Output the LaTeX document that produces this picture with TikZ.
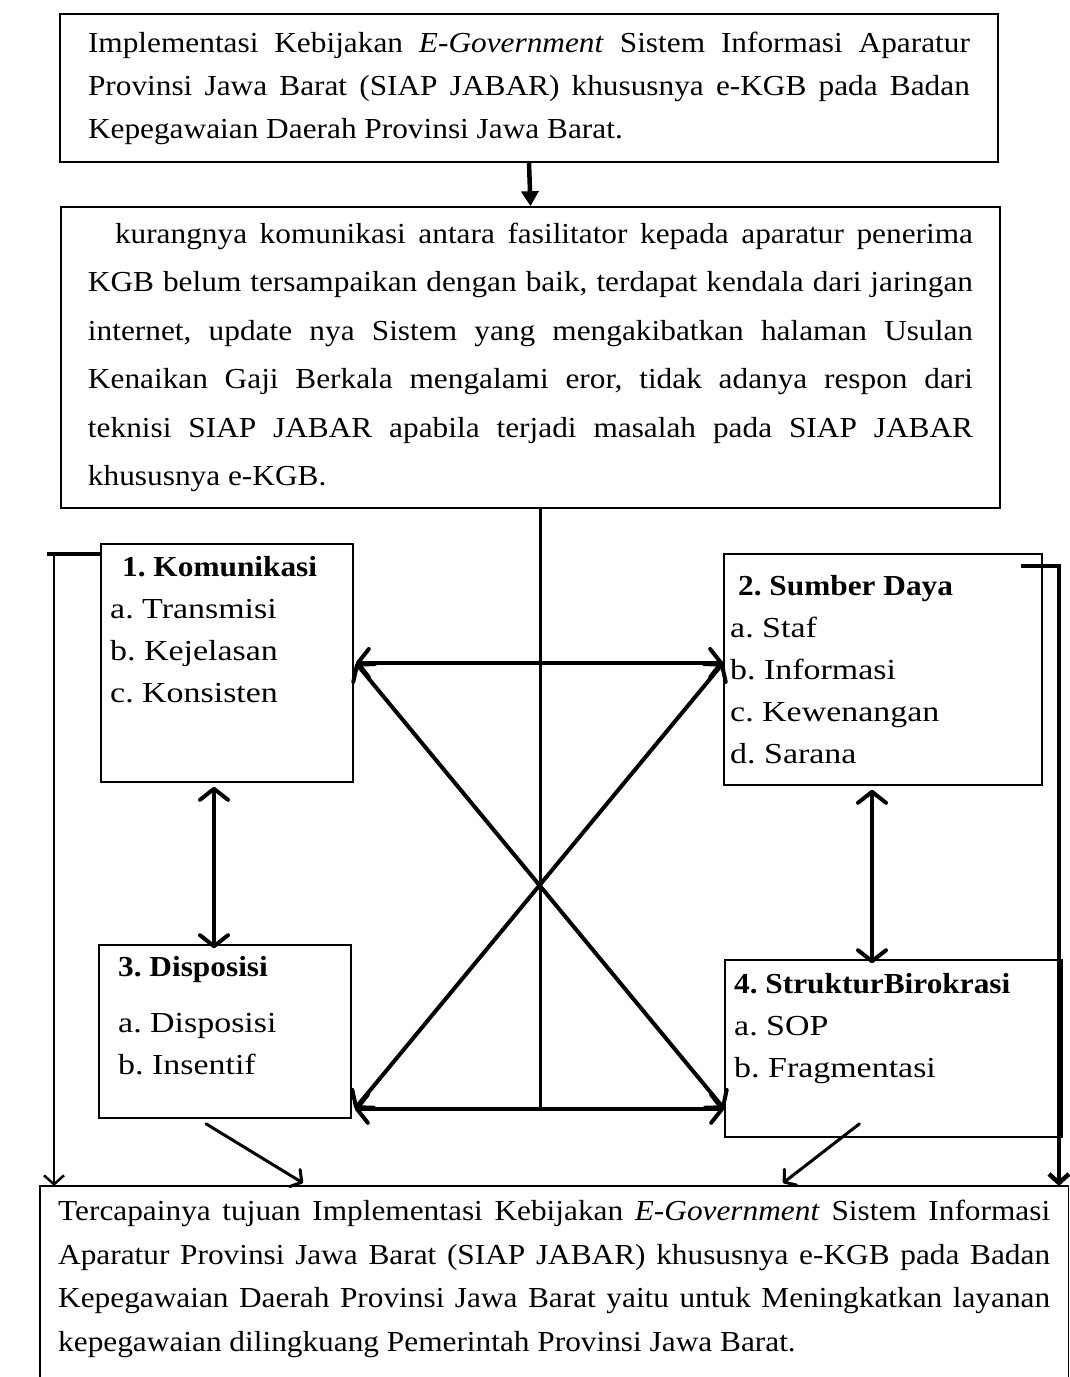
\documentclass[tikz,border=0pt]{standalone}
\usepackage{fontspec}
\setmainfont{Liberation Serif}[FakeStretch=1.08]
\newfontfamily\itemfont{Liberation Serif}[FakeStretch=1.17]
\usetikzlibrary{positioning,arrows.meta}

\begin{document}
\frenchspacing
\hyphenpenalty=10000
\begin{tikzpicture}[x=1pt, y=-1pt,
MainBox/.style={draw, line width=1.6pt, align=justify, inner ysep=0pt,
                font=\fontsize{29}{43}\selectfont},
FactorBox/.style={draw, line width=1.6pt, inner sep=0pt},
FactorText/.style={align=left, inner sep=0pt, anchor=north west,
                font=\fontsize{29}{42}\itemfont},
Link/.style={line width=4pt, line cap=round,
                {Straight Barb[length=11pt, width=28pt, round]}-{Straight Barb[length=11pt, width=28pt, round]}},
BigArrow/.style={line width=4.5pt, -{Triangle[length=15pt, width=17pt]}},
SideLine/.style={line width=4pt},
SideArrow/.style={line width=2.5pt, -{Straight Barb[length=9pt, width=20pt]}},
GoalArrow/.style={line width=3pt, line cap=round, -{Straight Barb[length=8pt, width=20pt, round]}},
]
\useasboundingbox (0,0) rectangle (1070,1377);
\fill[white] (0,0) rectangle (1070,1377);

% top boxes
\node [MainBox, text width=882pt, inner xsep=28pt, minimum height=148pt] (policy) at (529,88)
  {Implementasi Kebijakan \textit{E-Government} Sistem Informasi Aparatur\linebreak
   Provinsi Jawa Barat (SIAP JABAR) khususnya e-KGB pada Badan\linebreak
   Kepegawaian Daerah Provinsi Jawa Barat.};
\node [MainBox, text width=885pt, inner xsep=27pt, minimum height=301pt,
       font=\fontsize{29}{48.5}\selectfont] (problem) at (530.5,357.5)
  {\hspace*{27pt}kurangnya komunikasi antara fasilitator kepada aparatur penerima\linebreak
   KGB belum tersampaikan dengan baik, terdapat kendala dari jaringan\linebreak
   internet, update nya Sistem yang mengakibatkan halaman Usulan\linebreak
   Kenaikan Gaji Berkala mengalami eror, tidak adanya respon dari\linebreak
   teknisi SIAP JABAR apabila terjadi masalah pada SIAP JABAR\linebreak
   khususnya e-KGB.};

% four factors
\node [FactorBox, minimum width=252pt, minimum height=238pt] (kom) at (227,663) {};
\node [FactorText] (komtext) at (110,556)
  {\hspace*{12pt}{\rmfamily\bfseries 1. Komunikasi}\\ a. Transmisi\\ b. Kejelasan\\ c. Konsisten};
\node [FactorBox, minimum width=318pt, minimum height=231pt] (sum) at (883,669.5) {};
\node [FactorText] (sumtext) at (730,575)
  {\hspace*{8pt}{\rmfamily\bfseries 2. Sumber Daya}\\ a. Staf\\ b. Informasi\\ c. Kewenangan\\ d. Sarana};
\node [FactorBox, minimum width=252pt, minimum height=173pt] (dis) at (225,1031.5) {};
\node [FactorText] (distext) at (118,956)
  {{\rmfamily\bfseries 3. Disposisi}\\[14pt] a. Disposisi\\ b. Insentif};
\node [FactorBox, minimum width=337pt, minimum height=177pt] (str) at (893.5,1048.5) {};
\node [FactorText] (strtext) at (734,973)
  {{\rmfamily\bfseries 4. StrukturBirokrasi}\\ a. SOP\\ b. Fragmentasi};

% goal box, its bottom runs off the page
\node [align=justify, text width=992pt, inner xsep=18pt, inner ysep=14pt, anchor=north west,
       font=\fontsize{29}{43.5}\selectfont] (goal) at (40,1186)
  {Tercapainya tujuan Implementasi Kebijakan \textit{E-Government} Sistem Informasi\linebreak
   Aparatur Provinsi Jawa Barat (SIAP JABAR) khususnya e-KGB pada Badan\linebreak
   Kepegawaian Daerah Provinsi Jawa Barat yaitu untuk Meningkatkan layanan\linebreak
   kepegawaian dilingkuang Pemerintah Provinsi Jawa Barat.};
\draw [line width=1.6pt] ([yshift=-300pt]goal.north west) -- (goal.north west)
  -- (goal.north east) -- ([yshift=-300pt]goal.north east);

% connectors
\draw [BigArrow] (policy.south) -- (problem.north);

\coordinate (tl) at ([xshift=2pt]kom.east);
\coordinate (tr) at (tl -| sum.west);
\coordinate (bl) at ([shift={(3pt,10pt)}]dis.south east);
\coordinate (br) at (bl -| str.west);
\draw [Link] (tl) -- (tr);
\draw [Link] (bl) -- (br);
\draw [Link] (tl) -- (br);
\draw [Link] (tr) -- (bl);
\draw [line width=3pt] ([xshift=9.5pt]problem.south) -- ([xshift=9.5pt]problem.south |- bl);

\draw [Link] ([shift={(-13pt,-4pt)}]kom.south) -- ([shift={(-13pt,-4pt)}]kom.south |- dis.north);
\draw [Link] ([shift={(-11pt,-4pt)}]sum.south) -- ([shift={(-11pt,-4pt)}]sum.south |- str.north);

\coordinate (lstub) at (47,554);
\coordinate (lcorner) at (54,554);
\draw [SideLine] (lstub) -- (lstub -| kom.west);
\draw [SideArrow] (lcorner) -- (lcorner |- goal.north);
\coordinate (rstub) at (1021,566);
\coordinate (rcorner) at (1059,566);
\draw [SideLine] (rstub) -- ([xshift=2pt]rcorner);
\draw [SideArrow, line width=4.5pt] (rcorner) -- (rcorner |- goal.north);

\coordinate (goalA) at (303,1183);
\coordinate (goalB) at (783,1183);
\draw [GoalArrow] ([shift={(-19pt,-5pt)}]dis.south) -- (goalA);
\draw [GoalArrow] ([shift={(-34pt,14pt)}]str.south) -- (goalB);
\end{tikzpicture}
\end{document}
